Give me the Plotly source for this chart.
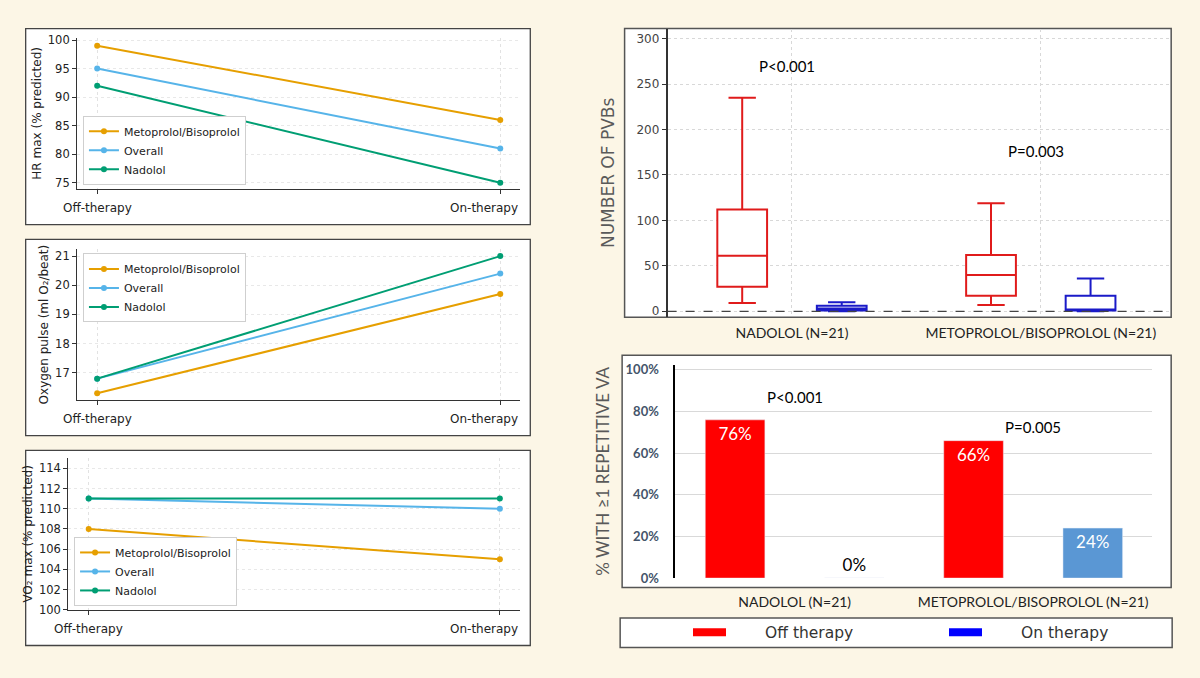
import plotly.graph_objects as go

W, H = 1200, 678

# left column: exercise test parameters
phases = ["Off-therapy", "On-therapy"]
drug_names = ["Metoprolol/Bisoprolol", "Overall", "Nadolol"]
drug_colors = ["#E69F00", "#56B4E9", "#009E73"]

hr_metoprolol = [99, 86]
hr_overall = [95, 81]
hr_nadolol = [92, 75]

o2_metoprolol = [16.3, 19.7]
o2_overall = [16.8, 20.4]
o2_nadolol = [16.8, 21.0]

vo2_metoprolol = [108, 105]
vo2_overall = [111, 110]
vo2_nadolol = [111, 111]

# right column: arrhythmias off vs on therapy
groups = ["NADOLOL (N=21)", "METOPROLOL/BISOPROLOL (N=21)"]
therapy_names = ["Off therapy", "On therapy"]

pvb_off_low = [9, 7]
pvb_off_q1 = [27, 17]
pvb_off_med = [61, 40]
pvb_off_q3 = [112, 62]
pvb_off_high = [235, 119]

pvb_on_low = [0, 0]
pvb_on_q1 = [1, 1]
pvb_on_med = [3, 2]
pvb_on_q3 = [6, 17]
pvb_on_high = [10, 36]

pvb_p = ["P<0.001", "P=0.003"]
pvb_p_y = [270, 176]

va_off = [76, 66]
va_on = [0, 24]
va_p = ["P<0.001", "P=0.005"]
va_p_y = [87, 72.6]


def px(x):
    return x / W


def py(y):
    return 1 - y / H


fig = go.Figure()
shapes = []
annotations = []
layout = {}

left_series = [
    [hr_metoprolol, hr_overall, hr_nadolol],
    [o2_metoprolol, o2_overall, o2_nadolol],
    [vo2_metoprolol, vo2_overall, vo2_nadolol],
]
left_titles = ["HR max (% predicted)", "Oxygen pulse (ml O\u2082/beat)", "VO\u2082 max (% predicted)"]

# panel geometry in pixels
left_geo = [
    dict(frame=(26, 24, 537, 224), plot=(78, 33.3, 527, 187.7), yrange=[73.9, 100.41], dtick=5,
         leg=(84, 183.3, "bottom"), lab_y=206.7),
    dict(frame=(26, 239, 537, 439), plot=(78, 249, 527, 402.7), yrange=[16.069, 21.235], dtick=1,
         leg=(84, 253.3, "top"), lab_y=421.7),
    dict(frame=(26, 454, 537, 653), plot=(69, 461.7, 527, 616.7), yrange=[100, 115.03], dtick=2,
         leg=(75, 612.7, "bottom"), lab_y=636.7),
]

dark = "#222222"
for k, (series, title, g) in enumerate(zip(left_series, left_titles, left_geo)):
    n = "" if k == 0 else str(k + 1)
    for name, color, vals in zip(drug_names, drug_colors, series):
        fig.add_trace(go.Scatter(
            x=phases, y=vals, name=name, mode="lines+markers",
            line=dict(color=color, width=2), marker=dict(color=color, size=6),
            xaxis="x" + n, yaxis="y" + n, legend="legend" + n,
        ))
    x0, y0, x1, y1 = g["plot"]
    layout["xaxis" + n] = dict(
        domain=[px(x0), px(x1)], range=[-0.05, 1.05], anchor="y" + n,
        showgrid=True, gridcolor="#e2e2e2", griddash="dot", zeroline=False,
        showline=True, linecolor="#333", linewidth=1,
        ticks="outside", ticklen=4, tickcolor="#333", showticklabels=False,
    )
    layout["yaxis" + n] = dict(
        domain=[py(y1), py(y0)], range=g["yrange"], dtick=g["dtick"], anchor="x" + n,
        showgrid=True, gridcolor="#e8e8e8", griddash="dot", zeroline=False,
        showline=True, linecolor="#333", linewidth=1,
        ticks="outside", ticklen=4, tickcolor="#333",
        tickfont=dict(family="DejaVu Sans", size=11.5, color=dark),
        title=dict(text=title, font=dict(family="DejaVu Sans", size=12, color=dark), standoff=3),
    )
    lx, ly, anchor = g["leg"]
    layout["legend" + n] = dict(
        x=px(lx), xanchor="left", y=py(ly), yanchor=anchor,
        bgcolor="white", bordercolor="#cfcfcf", borderwidth=1, itemwidth=30,
        font=dict(family="DejaVu Sans", size=11, color=dark), tracegroupgap=0,
    )
    fx0, fy0, fx1, fy1 = g["frame"]
    shapes.append(dict(type="rect", xref="paper", yref="paper", layer="below",
                       x0=px(fx0), x1=px(fx1), y0=py(fy1), y1=py(fy0),
                       fillcolor="white", line=dict(color="#444", width=1.3)))
    # phase labels under the x axis
    annotations.append(dict(xref="x" + n, yref="paper", x=phases[0], y=py(g["lab_y"]),
                            text=phases[0], showarrow=False, xanchor="center", yanchor="middle",
                            font=dict(family="DejaVu Sans", size=12, color=dark)))
    annotations.append(dict(xref="x" + n + " domain", yref="paper", x=1, y=py(g["lab_y"]),
                            text=phases[1], showarrow=False, xanchor="right", yanchor="middle",
                            font=dict(family="DejaVu Sans", size=12, color=dark)))

# ---- box plot of PVBs ----
red = "#E01B1B"
blue = "#1A1AC8"
fig.add_trace(go.Box(
    x=groups, q1=pvb_off_q1, median=pvb_off_med, q3=pvb_off_q3,
    lowerfence=pvb_off_low, upperfence=pvb_off_high, name=therapy_names[0],
    line=dict(color=red, width=2), fillcolor="white", whiskerwidth=0.55,
    boxpoints=False, xaxis="x4", yaxis="y4", showlegend=False,
))
fig.add_trace(go.Box(
    x=groups, q1=pvb_on_q1, median=pvb_on_med, q3=pvb_on_q3,
    lowerfence=pvb_on_low, upperfence=pvb_on_high, name=therapy_names[1],
    line=dict(color=blue, width=2), fillcolor="white", whiskerwidth=0.55,
    boxpoints=False, xaxis="x4", yaxis="y4", showlegend=False,
))

layout["xaxis4"] = dict(
    domain=[px(676), px(1186)], range=[-0.5, 1.524], anchor="y4", type="category",
    showgrid=True, gridcolor="#d8d8d8", griddash="dot", zeroline=False, ticks="",
    showline=False, ticklabelstandoff=6,
    tickfont=dict(family="Lato", size=14, color=dark),
)
layout["yaxis4"] = dict(
    domain=[py(318.3), py(24)], range=[-6.5, 311.1], dtick=50, anchor="x4",
    showgrid=True, gridcolor="#d8d8d8", griddash="dot", zeroline=False,
    showline=True, linecolor="#333", linewidth=1.5,
    ticks="outside", ticklen=4, tickcolor="#333",
    tickfont=dict(family="DejaVu Sans", size=12, color="#444"),
    title=dict(text="NUMBER OF PVBs", font=dict(family="DejaVu Sans", size=17, color="#5a5a5a"),
               standoff=18),
)
shapes.append(dict(type="rect", xref="paper", yref="paper", layer="below",
                   x0=px(632.5), x1=px(1186), y0=py(318.3), y1=py(24),
                   fillcolor="white", line=dict(color="#555", width=1.5)))
shapes.append(dict(type="line", xref="x4 domain", yref="y4", x0=0, x1=1, y0=0, y1=0,
                   line=dict(color="#444", width=1.2, dash="dash")))
for i, (txt, yv) in enumerate(zip(pvb_p, pvb_p_y)):
    annotations.append(dict(xref="x4", yref="y4", x=i - 0.02, y=yv, text=txt, showarrow=False,
                            font=dict(family="Lato", size=15, color="black")))

# ---- bar chart of repetitive VA ----
fig.add_trace(go.Bar(
    x=groups, y=va_off, name=therapy_names[0], marker_color="#FF0000",
    text=[f"{v}%" for v in va_off], textposition="inside", insidetextanchor="end",
    textangle=0, constraintext="none",
    insidetextfont=dict(family="Lato", size=17, color="white"),
    xaxis="x5", yaxis="y5", showlegend=False,
))
fig.add_trace(go.Bar(
    x=groups, y=va_on, name=therapy_names[1], marker_color=["#0000FF", "#5A97D4"],
    text=[f"{v}%" for v in va_on], textposition=["outside", "inside"], insidetextanchor="end",
    textangle=0, constraintext="none", cliponaxis=False,
    insidetextfont=dict(family="Lato", size=17, color="white"),
    outsidetextfont=dict(family="Lato", size=17, color="black"),
    xaxis="x5", yaxis="y5", showlegend=False,
))

layout["xaxis5"] = dict(
    domain=[px(684), px(1167)], range=[-0.5, 1.5], anchor="y5", type="category",
    showgrid=False, zeroline=False, ticks="", showline=False, ticklabelstandoff=14,
    tickfont=dict(family="Lato", size=14, color=dark),
)
layout["yaxis5"] = dict(
    domain=[py(584.3), py(366.7)], range=[0, 102.5], dtick=20, ticksuffix="%", anchor="x5",
    showgrid=True, gridcolor="#d9d9d9", zeroline=False,
    showline=True, linecolor="black", linewidth=2, ticks="", ticklabelstandoff=12,
    tickfont=dict(family="Lato", size=13, color="#44546A", weight="bold"),
    title=dict(text="% WITH \u22651 REPETITIVE VA", font=dict(family="Lato", size=17, color="#595959"),
               standoff=12),
)
shapes.append(dict(type="rect", xref="paper", yref="paper", layer="below",
                   x0=px(630), x1=px(1186), y0=py(594), y1=py(357),
                   fillcolor="white", line=dict(color="#555", width=1.5)))
for i, (txt, yv) in enumerate(zip(va_p, va_p_y)):
    annotations.append(dict(xref="x5", yref="y5", x=i, y=yv, text=txt, showarrow=False,
                            font=dict(family="Lato", size=15, color="black")))

# shared key for the two right-hand charts
gap = "\u2002" * 4 + "\u2009"
for name, color in zip(therapy_names, ["#FF0000", "#0000FF"]):
    fig.add_trace(go.Scatter(
        x=[None], y=[None], name=gap + name, mode="lines", line=dict(color=color, width=8),
        xaxis="x5", yaxis="y5", legend="legend4", hoverinfo="skip",
    ))
layout["legend4"] = dict(
    orientation="h", x=px(697), xanchor="left", y=py(640), yanchor="middle",
    itemwidth=33, entrywidth=208, bgcolor="rgba(0,0,0,0)", borderwidth=0,
    font=dict(family="DejaVu Sans", size=15.5, color="#333"),
)
shapes.append(dict(type="rect", xref="paper", yref="paper", layer="below",
                   x0=px(628), x1=px(1187), y0=py(655), y1=py(625),
                   fillcolor="white", line=dict(color="#555", width=1.5)))

fig.update_layout(
    width=W, height=H, autosize=False,
    margin=dict(l=0, r=0, t=0, b=0),
    paper_bgcolor="#FCF6E6", plot_bgcolor="rgba(0,0,0,0)",
    boxmode="group", boxgap=0.2, boxgroupgap=0.5,
    barmode="group", bargap=0, bargroupgap=0.5,
    shapes=shapes, annotations=annotations,
    **layout,
)

fig.write_html("out.html", config={"displayModeBar": False},
               post_script="document.body.style.margin='0';")
